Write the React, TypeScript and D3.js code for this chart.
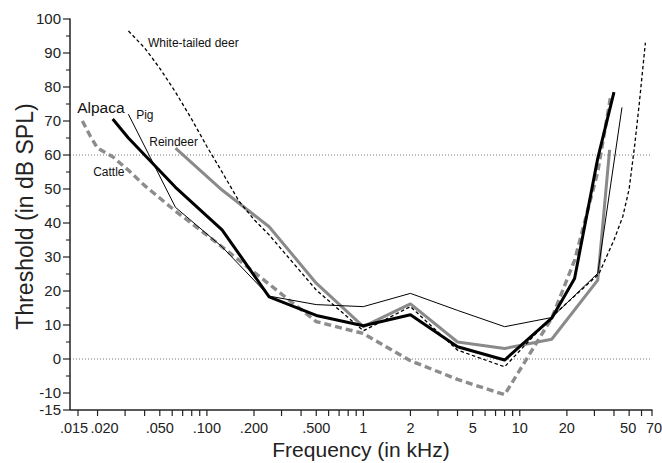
import React from "react";
import * as d3 from "d3";

type Pt = [number, number];

// Series: [frequency kHz, threshold dB SPL]
const alpaca: Pt[] = [
  [0.025, 70.6], [0.0315, 65], [0.063, 50.5], [0.125, 38], [0.25, 18.3], [0.5, 12.8],
  [1, 9.8], [2, 13], [4, 3.6], [8, -0.3], [16, 12], [22.4, 23.7], [31.5, 59], [40, 78.5],
];
const pig: Pt[] = [
  [0.0315, 72], [0.063, 44.6], [0.125, 33], [0.25, 18.5], [0.5, 16], [1, 15.4],
  [2, 19.3], [4, 14.3], [8, 9.5], [16, 12.2], [31.5, 25.2], [45, 74],
];
const reindeer: Pt[] = [
  [0.063, 62], [0.125, 49.7], [0.25, 38.9], [0.5, 22.3], [1, 9.5], [2, 16.2],
  [4, 5], [8, 3.1], [16, 5.8], [31.5, 23.2], [37.5, 61.5],
];
const cattle: Pt[] = [
  [0.016, 70], [0.018, 65.5], [0.02, 62], [0.025, 59.5], [0.0315, 55.5], [0.04, 51],
  [0.063, 43.5], [0.125, 33], [0.25, 22], [0.5, 11], [1, 7.5], [2, -0.5], [4, -6],
  [8, -10.5], [16, 12], [22.4, 29], [31.5, 55], [38, 77],
];
const deer: Pt[] = [
  [0.0315, 96.5], [0.04, 91.5], [0.05, 85.5], [0.063, 78.5], [0.08, 70.5], [0.1, 62.5],
  [0.125, 55], [0.16, 46.5], [0.2, 41], [0.25, 36.5], [0.5, 20.3], [1, 8.3], [2, 15.4],
  [4, 2.6], [8, -2.3], [16, 12.4], [32, 25], [40, 35], [45.6, 42], [50, 50], [54.3, 63],
  [58, 75], [63.5, 93],
];

const xMajorTicks = [0.015, 0.02, 0.05, 0.1, 0.2, 0.5, 1, 2, 5, 10, 20, 50, 70];
const xMajorLabels = [".015", ".020", ".050", ".100", ".200", ".500", "1", "2", "5", "10", "20", "50", "70"];
const xLabelNudge = [-4, 7, 0, 0, 0, 0, 0, 0, 0, 0, 0, -1, 2];
const xMinorTicks = [0.03, 0.04, 0.06, 0.07, 0.08, 0.09, 0.3, 0.4, 0.6, 0.7, 0.8, 0.9, 3, 4, 6, 7, 8, 9, 30, 40, 60];
const yLabelTicks = [-15, -10, 0, 10, 20, 30, 40, 50, 60, 70, 80, 90, 100];
const yMinorTicks = [-5, 5, 15, 25, 35, 45, 55, 65, 75, 85, 95];
const refLines = [0, 60];

// annotation anchors in data units [freq, dB]
const labels: { text: string; at: Pt; size: number }[] = [
  { text: "White-tailed deer", at: [0.042, 91.7], size: 12 },
  { text: "Alpaca", at: [0.01482, 72.5], size: 15.5 },
  { text: "Pig", at: [0.0353, 70.5], size: 12 },
  { text: "Reindeer", at: [0.0428, 62.6], size: 12 },
  { text: "Cattle", at: [0.01875, 53.7], size: 12 },
];

const W = 662;
const H = 463;
const FONT = "'Liberation Sans', Arial, Helvetica, sans-serif";

export default function App() {
  const x = d3.scaleLog().domain([Math.pow(10, -1.875), 70]).range([70, 652]);
  const y = d3.scaleLinear().domain([-15, 100]).range([410, 19]);
  const line = d3
    .line<Pt>()
    .x((d) => x(d[0]))
    .y((d) => y(d[1]));

  const x0 = x.range()[0];
  const x1 = x.range()[1];
  const yb = y(-15);

  const series = [
    { data: cattle, stroke: "#8c8c8c", width: 3.4, dash: "7,4" },
    { data: reindeer, stroke: "#8a8a8a", width: 3, dash: undefined },
    { data: alpaca, stroke: "#000", width: 3, dash: undefined },
    { data: pig, stroke: "#000", width: 1, dash: undefined },
    { data: deer, stroke: "#000", width: 1.3, dash: "3.5,2.5" },
  ];

  return (
    <svg
      width={W}
      height={H}
      style={{ position: "absolute", left: 0, top: 0, background: "#fff" }}
      fontFamily={FONT}
    >
      <rect width={W} height={H} fill="#fff" />
      {refLines.map((v) => (
        <line
          key={v}
          x1={x0}
          x2={x1}
          y1={y(v)}
          y2={y(v)}
          stroke="#666"
          strokeWidth={0.9}
          strokeDasharray="1,2"
        />
      ))}
      {series.map((s, i) => (
        <path
          key={i}
          d={line(s.data) || ""}
          fill="none"
          stroke={s.stroke}
          strokeWidth={s.width}
          strokeDasharray={s.dash}
          strokeLinejoin="round"
        />
      ))}
      {/* Y axis */}
      <line x1={x0} x2={x0} y1={y(100) - 0.5} y2={yb} stroke="#222" strokeWidth={1.5} />
      {yLabelTicks.map((v) => (
        <g key={"yl" + v}>
          <line x1={x0 - 7} x2={x0} y1={y(v)} y2={y(v)} stroke="#222" strokeWidth={1.2} />
          <text x={x0 - 9} y={y(v)} dy="0.36em" textAnchor="end" fontSize={15} fill="#222">
            {v}
          </text>
        </g>
      ))}
      {yMinorTicks.map((v) => (
        <line key={"ym" + v} x1={x0 - 4} x2={x0} y1={y(v)} y2={y(v)} stroke="#222" strokeWidth={1.1} />
      ))}
      {/* X axis */}
      <line x1={x0} x2={x1 + 0.5} y1={yb} y2={yb} stroke="#222" strokeWidth={1.5} />
      {xMajorTicks.map((v, i) => (
        <g key={"xl" + v}>
          <line x1={x(v)} x2={x(v)} y1={yb} y2={yb + 6} stroke="#222" strokeWidth={1.2} />
          <text x={x(v) + xLabelNudge[i]} y={yb + 23} textAnchor="middle" fontSize={14.5} fill="#222">
            {xMajorLabels[i]}
          </text>
        </g>
      ))}
      {xMinorTicks.map((v) => (
        <line key={"xm" + v} x1={x(v)} x2={x(v)} y1={yb} y2={yb + 6} stroke="#222" strokeWidth={1.2} />
      ))}
      {/* Titles */}
      <text x={(x0 + x1) / 2} y={457} textAnchor="middle" fontSize={21} fill="#222">
        Frequency (in kHz)
      </text>
      <text
        transform={`translate(33, ${(y(100) + yb) / 2 + 2}) rotate(-90)`}
        textAnchor="middle"
        fontSize={23}
        fill="#222"
      >
        Threshold (in dB SPL)
      </text>
      {labels.map((l) => (
        <text key={l.text} x={x(l.at[0])} y={y(l.at[1])} fontSize={l.size} fill="#111">
          {l.text}
        </text>
      ))}
    </svg>
  );
}
